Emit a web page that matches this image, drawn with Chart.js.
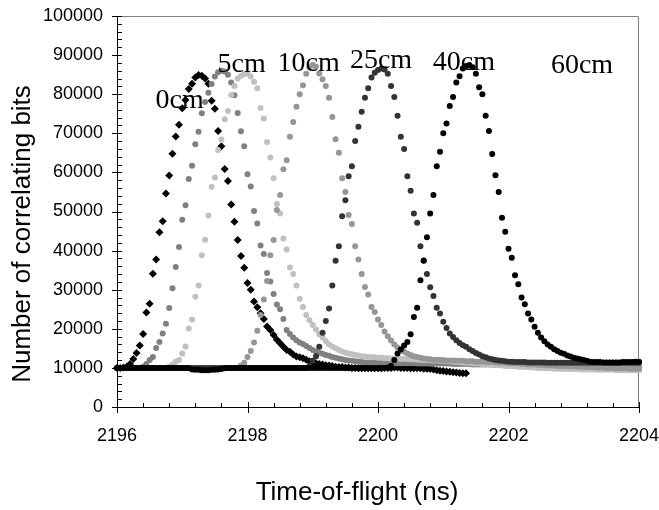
<!DOCTYPE html>
<html>
<head>
<meta charset="utf-8">
<script src="https://cdn.jsdelivr.net/npm/chart.js@4.4.1/dist/chart.umd.min.js"></script>
<style>
  html, body { margin: 0; padding: 0; background: #fff; }
  canvas { display: block; }
</style>
</head>
<body>
<canvas id="tof" width="659" height="510"></canvas>
<script>
// time-of-flight axis (ns), shared by every curve
const times = [
  2196.00,2196.05,2196.10,2196.15,2196.20,2196.25,2196.30,2196.35,2196.40,2196.45,
  2196.50,2196.55,2196.60,2196.65,2196.70,2196.75,2196.80,2196.85,2196.90,2196.95,
  2197.00,2197.05,2197.10,2197.15,2197.20,2197.25,2197.30,2197.35,2197.40,2197.45,
  2197.50,2197.55,2197.60,2197.65,2197.70,2197.75,2197.80,2197.85,2197.90,2197.95,
  2198.00,2198.05,2198.10,2198.15,2198.20,2198.25,2198.30,2198.35,2198.40,2198.45,
  2198.50,2198.55,2198.60,2198.65,2198.70,2198.75,2198.80,2198.85,2198.90,2198.95,
  2199.00,2199.05,2199.10,2199.15,2199.20,2199.25,2199.30,2199.35,2199.40,2199.45,
  2199.50,2199.55,2199.60,2199.65,2199.70,2199.75,2199.80,2199.85,2199.90,2199.95,
  2200.00,2200.05,2200.10,2200.15,2200.20,2200.25,2200.30,2200.35,2200.40,2200.45,
  2200.50,2200.55,2200.60,2200.65,2200.70,2200.75,2200.80,2200.85,2200.90,2200.95,
  2201.00,2201.05,2201.10,2201.15,2201.20,2201.25,2201.30,2201.35,2201.40,2201.45,
  2201.50,2201.55,2201.60,2201.65,2201.70,2201.75,2201.80,2201.85,2201.90,2201.95,
  2202.00,2202.05,2202.10,2202.15,2202.20,2202.25,2202.30,2202.35,2202.40,2202.45,
  2202.50,2202.55,2202.60,2202.65,2202.70,2202.75,2202.80,2202.85,2202.90,2202.95,
  2203.00,2203.05,2203.10,2203.15,2203.20,2203.25,2203.30,2203.35,2203.40,2203.45,
  2203.50,2203.55,2203.60,2203.65,2203.70,2203.75,2203.80,2203.85,2203.90,2203.95,
  2204.00
];

// number of correlating bits, one list per fibre offset
const bits0cm = [
  10000,10000,10100,10300,11000,12300,13800,15700,18700,24200,
  26400,34100,37700,44700,47500,54600,59200,64800,69200,72200,
  76400,78500,81300,82700,84300,84900,84700,84000,82700,78300,
  76300,70600,66700,60900,57800,51800,47400,42700,38600,35600,
  31700,30000,27000,25500,24000,22500,20600,19700,18400,17200,
  16300,15400,14600,14100,13400,12900,12700,12500,12100,11700,
  11400,11200,11000,10900,10700,10600,10500,10300,10200,10200,
  10100,10100,10000,10000,9900,9900,9900,9900,9900,9900,
  9900,9900,10000,10000,10000,10100,10100,10000,10000,10000,
  9900,9900,9900,9900,9800,9800,9700,9600,9400,9300,
  9200,9100,9000,8900,8800,8700,8600,8600,null,null,
  null,null,null,null,null,null,null,null,null,null,
  null,null,null,null,null,null,null,null,null,null,
  null,null,null,null,null,null,null,null,null,null,
  null,null,null,null,null,null,null,null,null,null,
  null,null,null,null,null,null,null,null,null,null,
  null
];
const bits5cm = [
  10000,10000,10000,10000,10000,10000,10000,10000,10300,11000,
  12000,12800,15100,16600,18800,21300,25300,30400,35800,40900,
  47900,51600,58300,61700,67200,70400,75100,78000,80400,82600,
  84500,85600,86000,85800,85000,83000,79700,75200,70500,66700,
  59500,56400,50100,46900,41300,39100,34300,32100,28900,26200,
  25000,22500,19700,18700,17800,17100,16500,16100,15600,15100,
  14600,14200,13900,13600,13300,13100,12800,12600,12400,12200,
  12000,11900,11800,11700,11600,11500,11400,11400,11400,11300,
  11300,11300,11300,11300,11200,11200,11200,11200,11200,11200,
  11200,11200,11100,11100,11100,11100,11100,11100,11100,11100,
  11100,11100,11100,11000,11000,11000,11000,11000,11000,10900,
  10900,10900,10900,10900,10900,10900,10800,10800,10800,10800,
  10800,10800,10800,10700,10700,10700,10700,10700,10600,10600,
  10600,10600,10600,10600,10500,10500,10500,10500,10500,10500,
  10500,10500,10400,10400,10400,10400,10400,10300,10300,10300,
  10300,10300,10300,10200,10200,10200,10200,10200,10200,10200,
  10200
];
const bits10cm = [
  10000,10000,10000,10000,10000,10000,10000,10000,10000,10000,
  10000,10000,10000,10000,10000,10000,10300,10900,11600,12000,
  13700,15500,20100,22400,28200,31100,38800,42800,49000,56300,
  58700,65700,68400,73600,75700,79800,82100,84000,84700,85100,
  85300,84500,83200,81500,76500,73800,67800,63800,58500,51900,
  49500,43100,40300,35700,34000,31100,27700,25600,23500,22200,
  21000,19800,18600,17800,16900,16000,15500,15000,14600,14200,
  13900,13700,13500,13300,13200,13000,12900,12800,12700,12700,
  12600,12600,12500,12500,12400,12400,12400,12300,12300,12200,
  12200,12200,12100,12100,12000,12000,12000,11900,11900,11800,
  11800,11700,11700,11600,11500,11500,11400,11300,11300,11200,
  11100,11100,11000,10900,10900,10800,10700,10700,10600,10500,
  10500,10400,10400,10300,10300,10200,10200,10100,10100,10000,
  10000,9900,9900,9900,9800,9800,9800,9700,9700,9700,
  9700,9700,9600,9600,9600,9600,9600,9500,9500,9500,
  9500,9500,9500,9400,9400,9400,9400,9400,9400,9400,
  9400
];
const bits25cm = [
  10000,10000,10000,10000,10000,10000,10000,10000,10000,10000,
  10000,10000,10000,10000,10000,10000,10000,10000,10000,10000,
  10000,10000,10000,10000,10000,10000,10000,10000,10000,10000,
  10000,10000,10000,10000,10000,10000,10000,10000,10600,11300,
  12800,14300,16500,19500,23500,27500,32200,38800,42700,50400,
  54200,60800,63100,69100,72900,76800,80000,82300,85200,86800,
  87500,87000,85300,83800,82100,79100,74200,68500,65000,58500,
  55000,49100,46800,41100,37700,34000,30700,28800,25600,24300,
  22400,21000,19300,18100,17000,16000,15200,14600,14100,13700,
  13300,13000,12800,12600,12400,12300,12200,12100,12100,12000,
  12000,11900,11900,11900,11800,11800,11800,11700,11700,11700,
  11600,11600,11600,11500,11500,11500,11400,11400,11300,11300,
  11200,11200,11100,11100,11000,11000,10900,10900,10900,10800,
  10800,10700,10700,10600,10600,10500,10500,10500,10400,10400,
  10400,10300,10300,10300,10200,10200,10200,10100,10100,10100,
  10000,10000,10000,9900,9900,9900,9900,9800,9800,9800,
  9800
];
const bits40cm = [
  10000,10000,10000,10000,10000,10000,10000,10000,10000,10000,
  10000,10000,10000,10000,10000,10000,10000,10000,10000,10000,
  10000,10000,10000,10000,10000,10000,10000,10000,10000,10000,
  10000,10000,10000,10000,10000,10000,10000,10000,10000,10000,
  10000,10000,10000,10000,10000,10000,10000,10000,10000,10000,
  10000,10000,10000,10000,10000,10000,10000,10000,10000,10500,
  11800,13000,15400,19000,22000,25200,31100,37400,41100,48800,
  52900,59000,61600,68000,71700,75500,79100,81500,84300,85500,
  86200,86600,86300,85200,82100,79300,74500,69100,66000,59000,
  55300,49500,47100,41100,37400,34000,30600,28400,25400,23900,
  21800,20200,18800,17900,17100,16400,15800,15400,14800,14300,
  13800,13400,13000,12700,12400,12200,12000,11900,11800,11700,
  11600,11600,11500,11500,11500,11500,11400,11400,11400,11400,
  11400,11400,11300,11300,11300,11300,11300,11300,11300,11300,
  11300,11300,11300,11300,11300,11300,11300,11300,11300,11300,
  11300,11300,11300,11300,11300,11300,11300,11300,11300,11300,
  11300
];
const bits60cm = [
  10000,10000,10000,10000,10000,10000,10000,10000,10000,10000,
  10000,10000,10000,10000,10000,10000,10000,10000,10000,10000,
  10000,10000,10000,9600,9500,9500,9400,9400,9400,9500,
  9500,9600,9700,9900,10000,10000,10000,10000,10000,10000,
  10000,10000,10000,10000,10000,10000,10000,10000,10000,10000,
  10000,10000,10000,10000,10000,10000,10000,10000,10000,10000,
  10000,10000,10000,10000,10000,10000,10000,10000,10000,10000,
  10000,10000,10000,10000,10000,10000,10000,10000,10000,10000,
  10000,10000,10000,10100,10500,12000,13700,14700,15700,16600,
  18600,23000,25400,32400,37500,43400,49500,54200,61600,65300,
  70000,72500,77000,79300,83000,84600,86600,87200,87500,86900,
  85200,81800,80000,74500,70600,64700,59300,55000,48400,44800,
  40500,38200,33700,31400,28000,26300,23900,22400,20500,19000,
  17800,16800,16000,15400,14800,14300,13900,13600,13200,12900,
  12600,12400,12200,12000,11800,11600,11500,11500,11500,11400,
  11400,11400,11400,11400,11400,11500,11500,11500,11500,11600,
  11600
];

// curve labels written on the plot, anchored in data units (left edge, text baseline)
const curveLabels = ['0cm', '5cm', '10cm', '25cm', '40cm', '60cm'];
const labelTimes  = [2196.59, 2197.54, 2198.46, 2199.57, 2200.84, 2202.65];
const labelBits   = [76500, 85700, 85900, 86600, 86200, 85300];

const xMajor = [2196, 2198, 2200, 2202, 2204];
const yMajor = [0, 10000, 20000, 30000, 40000, 50000, 60000, 70000, 80000, 90000, 100000];

Chart.defaults.font.family = '"Liberation Sans", Arial, sans-serif';
Chart.defaults.color = '#000';

function pts(list){
  return times.map((t, i) => ({x: t, y: list[i]})).filter(p => p.y !== null);
}

// tick marks, grey frame on top/right
const frame = {
  id: 'frame',
  beforeDatasetsDraw(chart){
    const {ctx, chartArea: a, scales: {x, y}} = chart;
    ctx.save();
    ctx.lineWidth = 1;
    ctx.strokeStyle = '#808080';
    ctx.beginPath();
    ctx.moveTo(a.left, a.top + 0.5);
    ctx.lineTo(a.right - 0.5, a.top + 0.5);
    ctx.lineTo(a.right - 0.5, a.bottom);
    ctx.stroke();

    ctx.strokeStyle = '#000';
    ctx.beginPath();
    // x: minor every 0.4 ns, major every 2 ns
    for (let k = 0; k <= 20; k++){
      const v = 2196 + k * 0.4;
      const px = Math.round(x.getPixelForValue(v)) + 0.5;
      const major = xMajor.some(m => Math.abs(m - v) < 1e-6);
      ctx.moveTo(px, a.bottom - (major ? 5 : 4));
      ctx.lineTo(px, a.bottom + (major ? 6 : 0));
    }
    // y: minor every 2000, major every 10000
    for (let k = 0; k <= 50; k++){
      const v = k * 2000;
      const py = Math.round(y.getPixelForValue(v)) + 0.5;
      const major = yMajor.includes(v);
      ctx.moveTo(a.left - (major ? 5 : 0), py);
      ctx.lineTo(a.left + 5, py);
    }
    ctx.stroke();
    ctx.restore();
  },
  afterDatasetsDraw(chart){
    const {ctx, scales: {x, y}} = chart;
    ctx.save();
    ctx.fillStyle = '#000';
    ctx.textAlign = 'left';
    ctx.textBaseline = 'alphabetic';
    ctx.font = '28px "Liberation Serif", "Times New Roman", serif';
    curveLabels.forEach((txt, i) => {
      ctx.fillText(txt, x.getPixelForValue(labelTimes[i]), y.getPixelForValue(labelBits[i]));
    });

    ctx.font = '26px "Liberation Sans", Arial, sans-serif';
    ctx.textAlign = 'center';
    ctx.fillText('Time-of-flight (ns)', 357, 500);
    ctx.translate(30, 234);
    ctx.rotate(-Math.PI / 2);
    ctx.fillText('Number of correlating bits', 0, 0);
    ctx.restore();
  }
};

function series(data, color, style, radius, order){
  return {
    data: pts(data),
    backgroundColor: color,
    borderColor: color,
    pointStyle: style,
    pointRadius: radius,
    pointBorderWidth: 0,
    pointHoverRadius: radius,
    showLine: false,
    clip: false,
    order: order
  };
}

new Chart(document.getElementById('tof'), {
  type: 'scatter',
  data: {
    datasets: [
      series(bits0cm,  '#000000', 'rectRot', 4,   6),
      series(bits5cm,  '#808080', 'circle',  3,   5),
      series(bits10cm, '#c0c0c0', 'circle',  3,   4),
      series(bits25cm, '#969696', 'circle',  3,   3),
      series(bits40cm, '#333333', 'circle',  3,   2),
      series(bits60cm, '#000000', 'circle',  3,   1)
    ]
  },
  options: {
    responsive: false,
    animation: false,
    devicePixelRatio: 1,
    layout: { padding: { top: 16, right: 20, left: 0, bottom: 0 } },
    plugins: { legend: { display: false }, tooltip: { enabled: false } },
    scales: {
      x: {
        type: 'linear',
        min: 2196, max: 2204,
        afterFit: s => { s.height = 103; s.paddingLeft = 0; s.paddingRight = 0; },
        grid: { display: false, drawTicks: false },
        border: { display: true, color: '#000', width: 1 },
        ticks: { stepSize: 2, padding: 18, font: { size: 18 }, color: '#000',
                 callback: v => String(v) }
      },
      y: {
        min: 0, max: 100000,
        afterFit: s => { s.width = 117; s.paddingTop = 0; s.paddingBottom = 0; },
        grid: { display: false, drawTicks: false },
        border: { display: true, color: '#000', width: 1 },
        ticks: { stepSize: 10000, padding: 14, font: { size: 18 }, color: '#000',
                 callback: v => String(v) }
      }
    }
  },
  plugins: [frame]
});
</script>
</body>
</html>
